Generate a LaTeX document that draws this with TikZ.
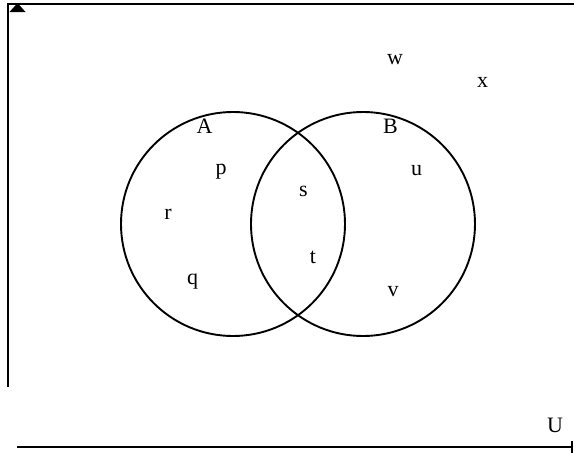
\documentclass[tikz,border=0pt]{standalone}
\usepackage{fontspec}
\setmainfont{Liberation Serif}
\begin{document}
\begin{tikzpicture}[x=1pt,y=-1pt,
  lbl/.style={anchor=base,inner sep=0pt,font=\fontsize{22}{22}\selectfont},
  setc/.style={draw,circle,line width=1.9pt,minimum size=224pt,inner sep=0pt},
  frame/.style={line width=2pt}]
\useasboundingbox (0,0) rectangle (574,455);
% frame lines
\coordinate (tl) at (7.5,3);
\coordinate (bl) at (7.5,387);
\coordinate (tls) at (9,4);
\coordinate (tr) at (574,4);
\coordinate (bs) at (17,447);
\coordinate (be) at (572,447);
\draw[frame] (tl) -- (bl);
\draw[frame] (tls) -- (tr);
\fill (9.5,12) -- (17.5,3) -- (25.5,12) -- cycle;
\draw[frame] (bs) -- (be);
\draw[frame] (572,441) -- (572,453);
% circles
\node[setc] (cA) at (233,224) {};
\node[setc] (cB) at (363,224) {};
% labels
\node[lbl] (A) at (204.5,133) {A};
\node[lbl] (B) at (390.5,133) {B};
\node[lbl] (p) at (221,174) {p};
\node[lbl] (s) at (303.5,196) {s};
\node[lbl] (r) at (168,219) {r};
\node[lbl] (t) at (313,263) {t};
\node[lbl] (q) at (192.5,284) {q};
\node[lbl] (u) at (416.5,175) {u};
\node[lbl] (v) at (393,296) {v};
\node[lbl] (w) at (395,64) {w};
\node[lbl] (x) at (482.5,87) {x};
\node[lbl] (U) at (555,432) {U};
\end{tikzpicture}
\end{document}
